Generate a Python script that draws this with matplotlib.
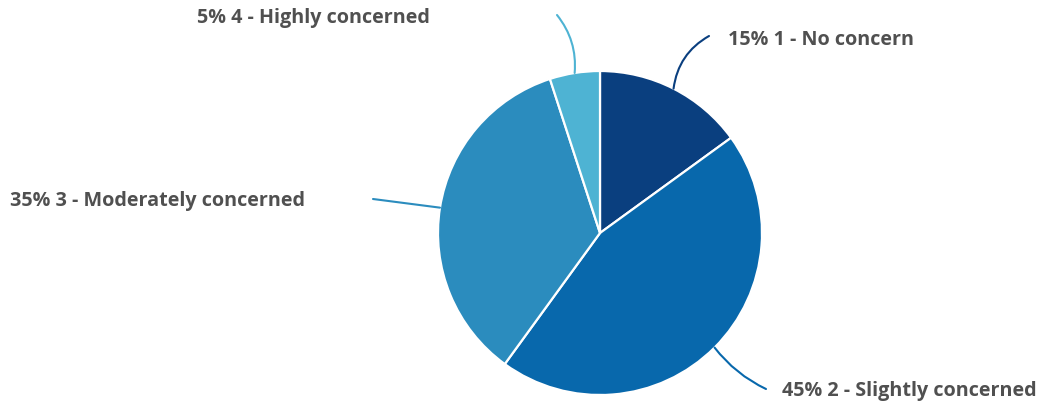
import numpy as np
import matplotlib
matplotlib.use("Agg")
import matplotlib.pyplot as plt

categories = ["1 - No concern", "2 - Slightly concerned", "3 - Moderately concerned", "4 - Highly concerned"]
values = [15, 45, 35, 5]
colors = ["#0a3f7f", "#0868ac", "#2b8cbe", "#4eb3d3"]

W, H = 1046, 406
fig = plt.figure(figsize=(W / 100, H / 100), dpi=100)
ax = fig.add_axes([0, 0, 1, 1])

cx, cy, r = 600, H - 234, 162
wedges, _ = ax.pie(values, colors=colors, startangle=90, counterclock=False,
                   center=(cx, cy), radius=r, frame=True,
                   wedgeprops=dict(edgecolor="white", linewidth=1.6))
ax.set_xlim(0, W)
ax.set_ylim(0, H)
ax.set_aspect("equal")
ax.axis("off")

# layout: connector end (pixel coords, y down), text anchor, alignment, curvature
layout = [
    dict(end=(709, 37), text=(728, 40), ha="left", rad=0.25),
    dict(end=(766, 390), text=(782, 391), ha="left", rad=-0.12),
    dict(end=(373, 200), text=(305, 201), ha="right", rad=0.0),
    dict(end=(557, 16), text=(430, 18), ha="right", rad=-0.2),
]

for w, v, cat, col, lay in zip(wedges, values, categories, colors, layout):
    ang = np.deg2rad((w.theta1 + w.theta2) / 2)
    ex, ey = cx + r * np.cos(ang), cy + r * np.sin(ang)
    tx, ty = lay["end"]
    ax.annotate("", xy=(ex, ey), xytext=(tx, H - ty),
                arrowprops=dict(arrowstyle="-", color=col, lw=1.5,
                                connectionstyle=f"arc3,rad={lay['rad']}",
                                shrinkA=0, shrinkB=0))
    lx, ly = lay["text"]
    ax.text(lx, H - ly, f"{v}% {cat}", ha=lay["ha"], va="center",
            fontsize=14.2, fontweight="bold", color="#505050", family="Open Sans")

fig.savefig("out.png", dpi=100)
